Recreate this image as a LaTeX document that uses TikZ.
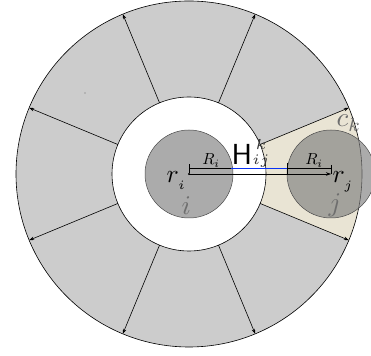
\documentclass[tikz,border=0pt]{standalone}
\usepackage{amsmath}
\usetikzlibrary{arrows.meta}
\definecolor{ringgray}{RGB}{204,204,204}
\definecolor{beige}{RGB}{233,228,212}
\definecolor{lblgray}{RGB}{110,110,110}
\definecolor{hblue}{RGB}{10,50,245}
\begin{document}
\begin{tikzpicture}[x=1pt,y=1pt,
  spoke/.style={-{Stealth[length=5pt,width=3.5pt]}, line width=0.6pt},
  ball/.style={circle, minimum size=88pt, inner sep=0pt, fill=gray, fill opacity=0.66, draw=black!70, draw opacity=1, line width=0.5pt},
  bar/.style={line width=0.6pt},
  lbl/.style={inner sep=0pt, anchor=base west}]
\useasboundingbox (0,0) rectangle (371,355);
\clip (0,0) rectangle (371,355);
\coordinate (C) at (189,181);
% ring
\fill[ringgray] (C) circle (173);
\fill[beige] ([shift={(-22.5:77)}]C) -- ([shift={(-22.5:173)}]C)
  arc[start angle=-22.5,end angle=22.5,radius=173]
  -- ([shift={(22.5:77)}]C)
  arc[start angle=22.5,end angle=-22.5,radius=77] -- cycle;
\fill[white] (C) circle (77);
\draw[line width=0.6pt] (C) circle (77);
\draw[line width=0.6pt] (C) circle (173);
\foreach \a [count=\n] in {22.5,67.5,...,337.5}{
  \coordinate (in\n) at ([shift={(\a:77)}]C);
  \coordinate (out\n) at ([shift={(\a:173)}]C);
  \draw[spoke] (in\n) -- (out\n);
}
% stray speck
\fill[black!60] (85,262) circle (0.6);
% balls
\node[ball] (ci) at (189,181) {};
\node[ball] (cj) at (331,181) {};
\fill (ci.center) circle (1.2);
% bars
\coordinate (b1) at (189,186.5);
\coordinate (b2) at (231,186.5);
\coordinate (b3) at (287,186.5);
\coordinate (b4) at (331,186.5);
\draw[bar] (189,190.5) -- (189,182);
\draw[bar] (b1) -- (b2);
\draw[hblue, line width=1pt] (b2) -- (b3);
\draw[bar] (287,192) -- (287,181);
\draw[bar] (b3) -- (b4);
\draw[bar] (331,190) -- (331,181);
\draw[line width=0.6pt, -{Stealth[length=5pt,width=3.5pt]}] (ci.center) -- (cj.center);
% labels
\node[lbl, scale=1.6] (Ri) at (202,190) {$R_i$};
\node[lbl, scale=1.6] (Rj) at (305,190) {$R_i$};
\node[lbl, scale=2.9] (H) at (231,190) {$\mathsf{H}\mkern-2mu\raisebox{2.8pt}{$\color{black!80}\genfrac{}{}{0pt}{3}{k}{ij}$}$};
\node[lbl, scale=2.55] (ri) at (166,172) {$r_{_i}$};
\node[lbl, scale=2.55] (rj) at (332,172) {$r_{_j}$};
\node[lbl, scale=2.7, text=lblgray] (li) at (181,140) {$i$};
\node[lbl, scale=2.7, text=lblgray] (lj) at (328,143) {$j$};
\node[lbl, scale=2.7, text=lblgray] (ck) at (336,228) {$c_k$};
\end{tikzpicture}
\end{document}
